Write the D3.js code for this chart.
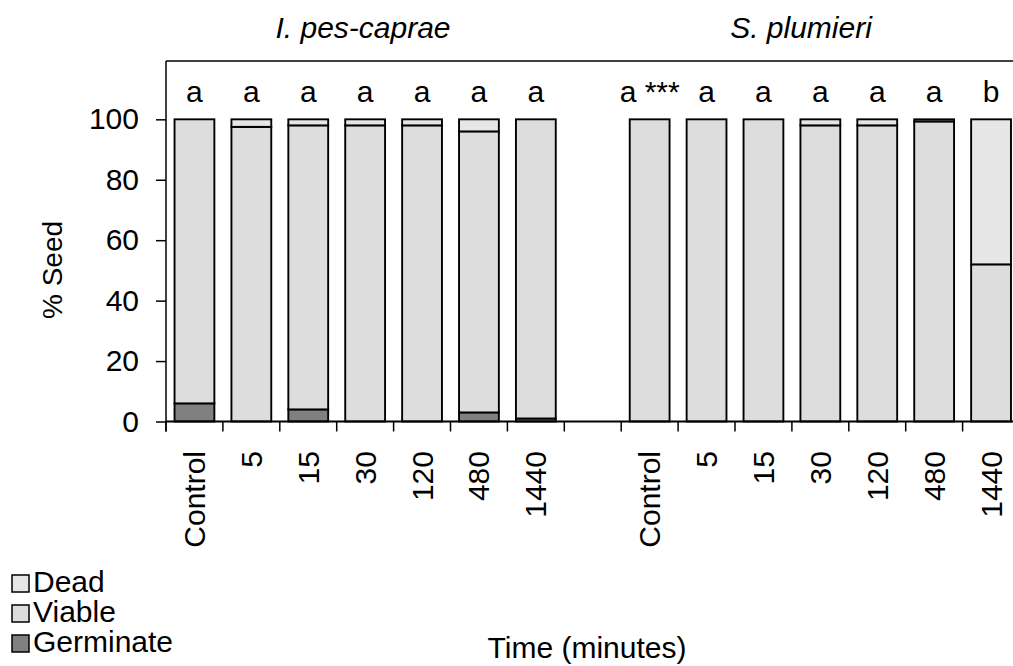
<!DOCTYPE html>
<html>
<head>
<meta charset="utf-8">
<script src="https://cdn.jsdelivr.net/npm/d3@7"></script>
<style>
  body { margin: 0; background: #fff; }
  text { font-family: "Liberation Sans", Arial, sans-serif; fill: #000; }
</style>
</head>
<body>
<div id="chart"></div>
<script>
const times = ['Control', '5', '15', '30', '120', '480', '1440']
const species = ['I. pes-caprae', 'S. plumieri']

// % seed per time
const germIpo = [6, 0, 4, 0, 0, 3, 1]
const viableIpo = [94, 97.5, 94, 98, 98, 93, 99]
const deadIpo = [0, 2.5, 2, 2, 2, 4, 0]
const germSpl = [0, 0, 0, 0, 0, 0, 0]
const viableSpl = [100, 100, 100, 98, 98, 99.3, 52]
const deadSpl = [0, 0, 0, 2, 2, 0.7, 48]

const lettersIpo = ['a', 'a', 'a', 'a', 'a', 'a', 'a']
const lettersSpl = ['a ***', 'a', 'a', 'a', 'a', 'a', 'b']

const yTicks = [0, 20, 40, 60, 80, 100]
const legendKeys = ['Dead', 'Viable', 'Germinate']
const colors = { Dead: '#e6e6e6', Viable: '#dddddd', Germinate: '#808080' }

// build rows: 7 + gap + 7
const rows = []
times.forEach((t, i) => rows.push({ key: 'I' + i, label: t, germ: germIpo[i], viable: viableIpo[i], dead: deadIpo[i], letter: lettersIpo[i] }))
rows.push({ key: 'gap', label: '', germ: 0, viable: 0, dead: 0, letter: '' })
times.forEach((t, i) => rows.push({ key: 'S' + i, label: t, germ: germSpl[i], viable: viableSpl[i], dead: deadSpl[i], letter: lettersSpl[i] }))

const W = 1013, H = 666
const fs = 30
const svg = d3.select('#chart').append('svg')
  .attr('width', W)
  .attr('height', H)

const x = d3.scaleBand()
  .domain(rows.map(d => d.key))
  .range([166, 1019.5])
  .paddingInner(0.3)
  .paddingOuter(0.15)

const y = d3.scaleLinear()
  .domain([0, 119.3])
  .range([421.5, 61])

const gap = (x.step() - x.bandwidth()) / 2

// top border line
svg.append('line')
  .attr('x1', 166).attr('x2', W)
  .attr('y1', y(119.3)).attr('y2', y(119.3))
  .attr('stroke', '#000').attr('stroke-width', 1.5)

// stacked bars
const stack = d3.stack().keys(['germ', 'viable', 'dead'])
const layers = stack(rows.filter(d => d.key !== 'gap'))
const fills = [colors.Germinate, colors.Viable, colors.Dead]

layers.forEach((layer, li) => {
  svg.append('g')
    .selectAll('rect')
    .data(layer.filter(d => d[1] - d[0] > 0))
    .join('rect')
    .attr('x', d => x(d.data.key))
    .attr('width', x.bandwidth())
    .attr('y', d => y(d[1]))
    .attr('height', d => y(d[0]) - y(d[1]))
    .attr('fill', fills[li])
    .attr('stroke', '#000')
    .attr('stroke-width', 1.9)
})

// x axis line and ticks between categories
svg.append('line')
  .attr('x1', 166).attr('x2', W)
  .attr('y1', y(0)).attr('y2', y(0))
  .attr('stroke', '#000').attr('stroke-width', 1.8)

svg.append('g')
  .selectAll('line')
  .data(rows)
  .join('line')
  .attr('x1', d => x(d.key) - gap)
  .attr('x2', d => x(d.key) - gap)
  .attr('y1', y(0))
  .attr('y2', y(0) + 10)
  .attr('stroke', '#000').attr('stroke-width', 1.5)

// category labels (rotated)
svg.append('g')
  .selectAll('text')
  .data(rows)
  .join('text')
  .attr('transform', d => `translate(${x(d.key) + x.bandwidth() / 2},451) rotate(-90)`)
  .attr('text-anchor', 'end')
  .attr('dy', '0.35em')
  .attr('font-size', fs)
  .text(d => d.label)

// y axis
const yAxis = svg.append('g')
  .attr('transform', 'translate(166,0)')
  .call(d3.axisLeft(y).tickValues(yTicks).tickSize(10).tickSizeOuter(0).tickPadding(17))
yAxis.select('.domain').remove()
yAxis.selectAll('.tick line').attr('stroke-width', 1.5)
yAxis.selectAll('.tick text').attr('font-size', fs).attr('font-family', '"Liberation Sans", Arial, sans-serif')
svg.append('line')
  .attr('x1', 166).attr('x2', 166)
  .attr('y1', y(119.3)).attr('y2', y(0) + 10)
  .attr('stroke', '#000').attr('stroke-width', 1.5)

// significance letters
svg.append('g')
  .selectAll('text')
  .data(rows)
  .join('text')
  .attr('x', d => x(d.key) + x.bandwidth() / 2)
  .attr('y', 102)
  .attr('text-anchor', 'middle')
  .attr('font-size', fs)
  .text(d => d.letter)

// species titles
svg.append('text')
  .attr('x', 363).attr('y', 38)
  .attr('text-anchor', 'middle')
  .attr('font-size', fs)
  .attr('font-style', 'italic')
  .text(species[0])
svg.append('text')
  .attr('x', 801).attr('y', 38)
  .attr('text-anchor', 'middle')
  .attr('font-size', fs)
  .attr('font-style', 'italic')
  .text(species[1])

// axis titles
svg.append('text')
  .attr('transform', 'translate(62,270) rotate(-90)')
  .attr('text-anchor', 'middle')
  .attr('font-size', 28)
  .text('% Seed')
svg.append('text')
  .attr('x', 587).attr('y', 658)
  .attr('text-anchor', 'middle')
  .attr('font-size', fs)
  .text('Time (minutes)')

// legend
const leg = svg.append('g')
  .selectAll('g')
  .data(legendKeys)
  .join('g')
  .attr('transform', (d, i) => `translate(12,${575 + i * 30})`)
leg.append('rect')
  .attr('width', 17).attr('height', 17)
  .attr('fill', d => colors[d])
  .attr('stroke', '#000').attr('stroke-width', 1.5)
leg.append('text')
  .attr('x', 21).attr('y', 17)
  .attr('font-size', fs)
  .text(d => d)
</script>
</body>
</html>
